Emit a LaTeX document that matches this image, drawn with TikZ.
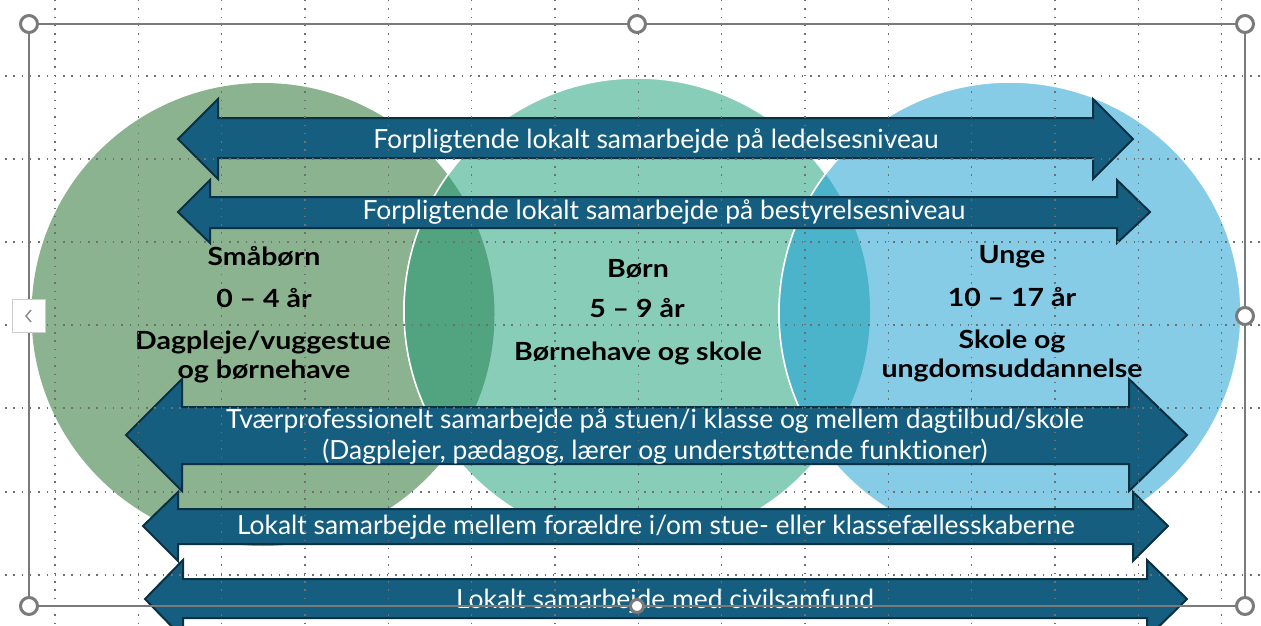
\documentclass[tikz,border=0pt]{standalone}
\usepackage{fontspec}
\setmainfont[Ligatures=NoCommon]{Lato}
\newfontfamily\lblfont[FakeStretch=1.14,Ligatures=NoCommon]{Lato}
\definecolor{cgreen}{HTML}{8BB390}
\definecolor{cteal}{HTML}{88CDB8}
\definecolor{cblue}{HTML}{87CCE6}
\definecolor{ogt}{HTML}{52A380}
\definecolor{otb}{HTML}{4BB3CA}
\definecolor{arrfill}{HTML}{165E80}
\definecolor{arredge}{HTML}{0B3041}
\definecolor{gridc}{HTML}{707070}
\definecolor{selc}{HTML}{7A7A7A}
\begin{document}
\begin{tikzpicture}[x=1pt,y=-1pt,
  arr/.style={fill=arrfill,draw=arredge,line width=2pt,line join=miter},
  wt/.style={text=white,font=\fontsize{26.4}{31}\selectfont,anchor=base,inner sep=0pt},
  lb/.style={text=black,font=\lblfont\fontsize{25}{28}\selectfont\bfseries,anchor=base,inner sep=0pt},
  gridl/.style={draw=gridc,line width=1.5pt,dash pattern=on 1.5pt off 6.8pt},
  handle/.style={circle,fill=white,draw=selc,line width=3pt,minimum size=17pt,inner sep=0pt},
  sel/.style={draw=selc,line width=1.5pt}]
\useasboundingbox (0,0) rectangle (1261,626);
\clip (0,0) rectangle (1261,626);
\fill[white] (0,0) rectangle (1261,626);
% circles
\fill[cgreen] (263,314.5) circle (231.5pt);
\fill[cteal,draw=white,line width=1.5pt] (637,311) circle (233pt);
\fill[cblue,draw=white,line width=1.5pt] (1010,313) circle (231pt);
\begin{scope}
  \clip (263,314.5) circle (231.5pt);
  \fill[ogt,draw=white,line width=1.5pt] (637,311) circle (233pt);
\end{scope}
\begin{scope}
  \clip (637,311) circle (233pt);
  \fill[otb,draw=white,line width=1.5pt] (1010,313) circle (231pt);
\end{scope}
% arrows
\path[arr] (178,139) -- (218,99) -- (218,118) -- (1093,118) -- (1093,99) -- (1133,139) -- (1093,179) -- (1093,158) -- (218,158) -- (218,179) -- cycle;
\path[arr] (178,212) -- (210,180) -- (210,197) -- (1117,197) -- (1117,180) -- (1150,212) -- (1117,243) -- (1117,228) -- (210,228) -- (210,243) -- cycle;
\path[arr] (126,435) -- (182,379) -- (182,407) -- (1129,407) -- (1129,379) -- (1187,435) -- (1129,491) -- (1129,464) -- (182,464) -- (182,491) -- cycle;
\path[arr] (143,526) -- (178,492) -- (178,509) -- (1133,509) -- (1133,492) -- (1168,526) -- (1133,561) -- (1133,544) -- (178,544) -- (178,561) -- cycle;
\path[arr] (145,599) -- (183,560) -- (183,579) -- (1147,579) -- (1147,560) -- (1187,599) -- (1147,638) -- (1147,618) -- (183,618) -- (183,638) -- cycle;
% arrow texts
\node[wt] (t1) at (656,148) {Forpligtende lokalt samarbejde på ledelsesniveau};
\node[wt] (t2) at (664,219) {Forpligtende lokalt samarbejde på bestyrelsesniveau};
\node[wt] (t3a) at (655,428) {Tværprofessionelt samarbejde på stuen/i klasse og mellem dagtilbud/skole};
\node[wt] (t3b) at (655,459) {(Dagplejer, pædagog, lærer og understøttende funktioner)};
\node[wt] (t4) at (656,534) {Lokalt samarbejde mellem forældre i/om stue- eller klassefællesskaberne};
\node[wt] (t5) at (665,608) {Lokalt samarbejde med civilsamfund};
% labels
\node[lb] (l1) at (264,265) {Småbørn};
\node[lb] (l2) at (264,307) {0 – 4 år};
\node[lb] (l3) at (263,349) {Dagpleje/vuggestue};
\node[lb] (l4) at (264,378) {og børnehave};
\node[lb] (m1) at (638,277) {Børn};
\node[lb] (m2) at (637,317) {5 – 9 år};
\node[lb] (m3) at (638,360) {Børnehave og skole};
\node[lb] (r1) at (1012,263) {Unge};
\node[lb] (r2) at (1012,306) {10 – 17 år};
\node[lb] (r3) at (1012,348) {Skole og};
\node[lb] (r4) at (1012,377) {ungdomsuddannelse};
% grid
\foreach \k in {0,...,14} \draw[gridl] ({55+83.33*\k},0) -- ({55+83.33*\k},626);
\foreach \y in {76,159,242,325,408,492,575} \draw[gridl] (5,\y) -- (1261,\y);
% selection frame
\draw[sel] (29,24) rectangle (1245,606);
\node[handle] (h1) at (29,24) {};
\node[handle] (h2) at (637,24) {};
\node[handle] (h3) at (1245,24) {};
\node[handle] (h4) at (1245,316) {};
\node[handle] (h5) at (29,606) {};
\node[handle,minimum size=13pt] (h6) at (637,606) {};
\node[handle] (h7) at (1245,606) {};
% collapse tab
\node[draw=gray!40,fill=white,line width=1pt,minimum width=33pt,minimum height=33pt,inner sep=0pt] (tab) at (28.5,315.5) {};
\draw[gray!90,line width=1.5pt] (31,310) -- (26,316) -- (31,322);
\end{tikzpicture}
\end{document}
